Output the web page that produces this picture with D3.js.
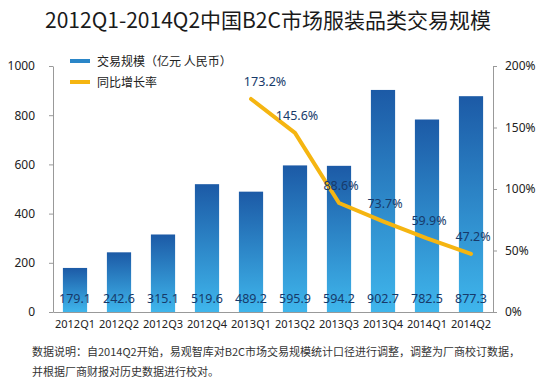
<!DOCTYPE html>
<html lang="zh">
<head>
<meta charset="UTF-8">
<title>2012Q1-2014Q2中国B2C市场服装品类交易规模</title>
<script src="https://d3js.org/d3.v7.min.js"></script>
<style>
    body { margin: 0; background: #fff; font-family: 'Noto Sans CJK SC', 'Noto Sans', sans-serif; }
    .axis path, .axis line { stroke: #999; }
    .axis text { font-size: 12px; fill: #222; font-family: 'Noto Sans', sans-serif; }
</style>
</head>
<body>
<svg width="542" height="385"></svg>
<script>
    // chart data
    const quarters = ["2012Q1", "2012Q2", "2012Q3", "2012Q4", "2013Q1", "2013Q2", "2013Q3", "2013Q4", "2014Q1", "2014Q2"];
    const volume = [179.1, 242.6, 315.1, 519.6, 489.2, 595.9, 594.2, 902.7, 782.5, 877.3];
    const growth = [null, null, null, null, 173.2, 145.6, 88.6, 73.7, 59.9, 47.2];
    const leftTicks = [0, 200, 400, 600, 800, 1000];
    const rightTicks = [0, 50, 100, 150, 200];

    const svg = d3.select("svg");
    const x0 = 53, x1 = 493, yTop = 66, yBase = 312;

    const x = d3.scaleBand().domain(quarters).range([x0, x1]).paddingInner(0.45).paddingOuter(0.225);
    const y = d3.scaleLinear().domain([0, 1000]).range([yBase, yTop]);
    const y2 = d3.scaleLinear().domain([0, 200]).range([yBase, yTop]);

    // title
    svg.append("text")
        .attr("x", 268).attr("y", 28)
        .attr("text-anchor", "middle")
        .style("font-size", "21px").style("fill", "#1a1a1a")
        .text("2012Q1-2014Q2中国B2C市场服装品类交易规模");

    // gradient for bars
    const grad = svg.append("defs").append("linearGradient")
        .attr("id", "barGrad").attr("x1", 0).attr("y1", 0).attr("x2", 0).attr("y2", 1);
    grad.append("stop").attr("offset", "0%").attr("stop-color", "#1c5aa6");
    grad.append("stop").attr("offset", "100%").attr("stop-color", "#3fb6ec");

    // bars
    svg.selectAll(".bar")
        .data(volume)
        .enter().append("rect")
        .attr("class", "bar")
        .attr("x", (d, i) => x(quarters[i]))
        .attr("y", d => y(d))
        .attr("width", x.bandwidth())
        .attr("height", d => yBase - y(d))
        .attr("fill", "url(#barGrad)");

    // bar labels
    svg.selectAll(".vlabel")
        .data(volume)
        .enter().append("text")
        .attr("class", "vlabel")
        .attr("x", (d, i) => x(quarters[i]) + x.bandwidth() / 2)
        .attr("y", 303)
        .attr("text-anchor", "middle")
        .style("font-size", "12.5px").style("fill", "#173a6a")
        .style("font-family", "'Noto Sans', sans-serif")
        .text(d => d.toFixed(1));

    // axes
    svg.append("g").attr("class", "axis")
        .attr("transform", `translate(${x0},0)`)
        .call(d3.axisLeft(y).tickValues(leftTicks).tickSize(4).tickSizeOuter(0).tickPadding(14).tickFormat(d3.format("d")));

    svg.append("g").attr("class", "axis")
        .attr("transform", `translate(${x1},0)`)
        .call(d3.axisRight(y2).tickValues(rightTicks).tickSize(4).tickSizeOuter(0).tickPadding(8).tickFormat(d => d + "%"));

    const xAxis = svg.append("g").attr("class", "axis")
        .attr("transform", `translate(0,${yBase})`)
        .call(d3.axisBottom(x).tickSize(0).tickPadding(8));
    xAxis.selectAll("text").style("font-size", "11px");

    // growth line
    const pts = growth.map((g, i) => ({ q: quarters[i], g })).filter(d => d.g !== null);
    const line = d3.line()
        .x(d => x(d.q) + x.bandwidth() / 2)
        .y(d => y2(d.g));
    svg.append("path")
        .datum(pts)
        .attr("d", line)
        .attr("fill", "none")
        .attr("stroke", "#f5b511")
        .attr("stroke-width", 4)
        .attr("stroke-linecap", "round");

    svg.selectAll(".glabel")
        .data(pts)
        .enter().append("text")
        .attr("class", "glabel")
        .attr("x", (d, i) => x(d.q) + x.bandwidth() / 2 + (i === 0 ? 14 : 2))
        .attr("y", d => y2(d.g) - 13)
        .attr("text-anchor", "middle")
        .style("font-size", "12.5px").style("fill", "#173a6a")
        .style("font-family", "'Noto Sans', sans-serif")
        .text(d => d.g.toFixed(1) + "%");

    // legend
    const legend = svg.append("g");
    legend.append("rect").attr("x", 70).attr("y", 59).attr("width", 20).attr("height", 4).attr("fill", "#2a86c8");
    legend.append("text").attr("x", 97).attr("y", 66).style("font-size", "12px").style("fill", "#222")
        .text("交易规模（亿元 人民币）");
    legend.append("rect").attr("x", 70).attr("y", 80).attr("width", 20).attr("height", 4).attr("fill", "#f5b511");
    legend.append("text").attr("x", 97).attr("y", 87).style("font-size", "12px").style("fill", "#222")
        .text("同比增长率");

    // footnote
    svg.append("text").attr("x", 32).attr("y", 356).style("font-size", "11px").style("fill", "#333")
        .text("数据说明：自2014Q2开始，易观智库对B2C市场交易规模统计口径进行调整，调整为厂商校订数据，");
    svg.append("text").attr("x", 32).attr("y", 376).style("font-size", "11px").style("fill", "#333")
        .text("并根据厂商财报对历史数据进行校对。");
</script>
</body>
</html>
